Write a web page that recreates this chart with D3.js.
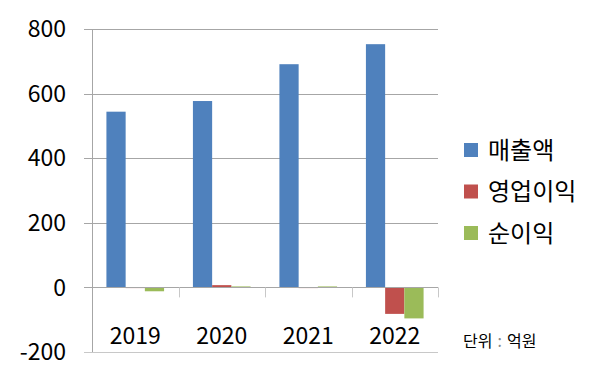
<!DOCTYPE html>
<html><head><meta charset="utf-8">
<script src="https://cdn.jsdelivr.net/npm/d3@7"></script>
<style>body{margin:0;background:#fff}svg{display:block}text{font-family:"Noto Sans CJK KR","Noto Sans",sans-serif;fill:#000}</style>
</head><body>
<script>
const years = ["2019","2020","2021","2022"];
const seriesNames = ["매출액","영업이익","순이익"];
const revenue = [544, 577, 691, 753];
const opProfit = [1, 7, 1, -82];
const netProfit = [-12, 3, 3, -96];
const yTicks = [-200, 0, 200, 400, 600, 800];
const colors = ["#4F81BD","#C0504D","#9BBB59"];
const unitParts = ["단위", ":", "억원"];

const W = 600, H = 381;
const svg = d3.select("body").append("svg").attr("width", W).attr("height", H);
const x = d3.scaleBand().domain(years).range([92, 438]).paddingInner(0).paddingOuter(0);
const y = d3.scaleLinear().domain([-200, 800]).range([352, 29]);
const bw = x.bandwidth() / 4.5;

// gridlines
svg.append("g").selectAll("line").data(yTicks).join("line")
  .attr("x1", 84).attr("x2", 438)
  .attr("y1", d => Math.round(y(d)) + 0.5).attr("y2", d => Math.round(y(d)) + 0.5)
  .attr("stroke", d => d === -200 ? "#c8c8c8" : "#a6a6a6").attr("stroke-width", 1);

// tick labels
svg.append("g").selectAll("text").data(yTicks).join("text")
  .attr("x", 66).attr("y", d => y(d)).attr("dy", "0.36em")
  .attr("text-anchor", "end").attr("font-size", 23).text(d => d);

const series = [revenue, opProfit, netProfit];
series.forEach((vals, si) => {
  svg.append("g").selectAll("rect").data(vals).join("rect")
    .attr("x", (d, i) => x(years[i]) + bw * 0.75 + si * bw)
    .attr("width", bw)
    .attr("y", d => y(Math.max(0, d)))
    .attr("height", d => Math.max(1, Math.abs(y(d) - y(0))))
    .attr("fill", colors[si]);
});

// zero axis line
svg.append("line").attr("x1", 84).attr("x2", 438)
  .attr("y1", Math.round(y(0)) + 0.5).attr("y2", Math.round(y(0)) + 0.5)
  .attr("stroke", "#a6a6a6");
// category tick marks
svg.append("g").selectAll("line").data(years).join("line")
  .attr("x1", d => Math.round(x(d) + x.bandwidth()) + 0.5)
  .attr("x2", d => Math.round(x(d) + x.bandwidth()) + 0.5)
  .attr("y1", y(0)).attr("y2", y(0) + 10).attr("stroke", "#c8c8c8");
// left axis
svg.append("line").attr("x1", 92.5).attr("x2", 92.5).attr("y1", y(800)).attr("y2", y(-200))
  .attr("stroke", "#a6a6a6");

// year labels
svg.append("g").selectAll("text").data(years).join("text")
  .attr("x", d => x(d) + x.bandwidth() / 2).attr("y", 344)
  .attr("text-anchor", "middle").attr("font-size", 23).text(d => d);

// legend
const lg = svg.append("g");
seriesNames.forEach((n, i) => {
  const cy = 150 + i * 41.5;
  lg.append("rect").attr("x", 464).attr("y", cy - 7).attr("width", 14).attr("height", 14).attr("fill", colors[i]);
  lg.append("text").attr("x", 488).attr("y", cy).attr("dy", "0.36em").attr("font-size", 24).text(n);
});

const unit = svg.append("text").attr("x", 463).attr("y", 341).attr("dy", "0.36em").attr("font-size", 16);
unitParts.forEach((p, i) => {
  unit.append("tspan").attr("dx", i === 0 ? 0 : 5).attr("fill", i === 1 ? "#888" : "#000").text(p);
});
</script>
</body></html>
